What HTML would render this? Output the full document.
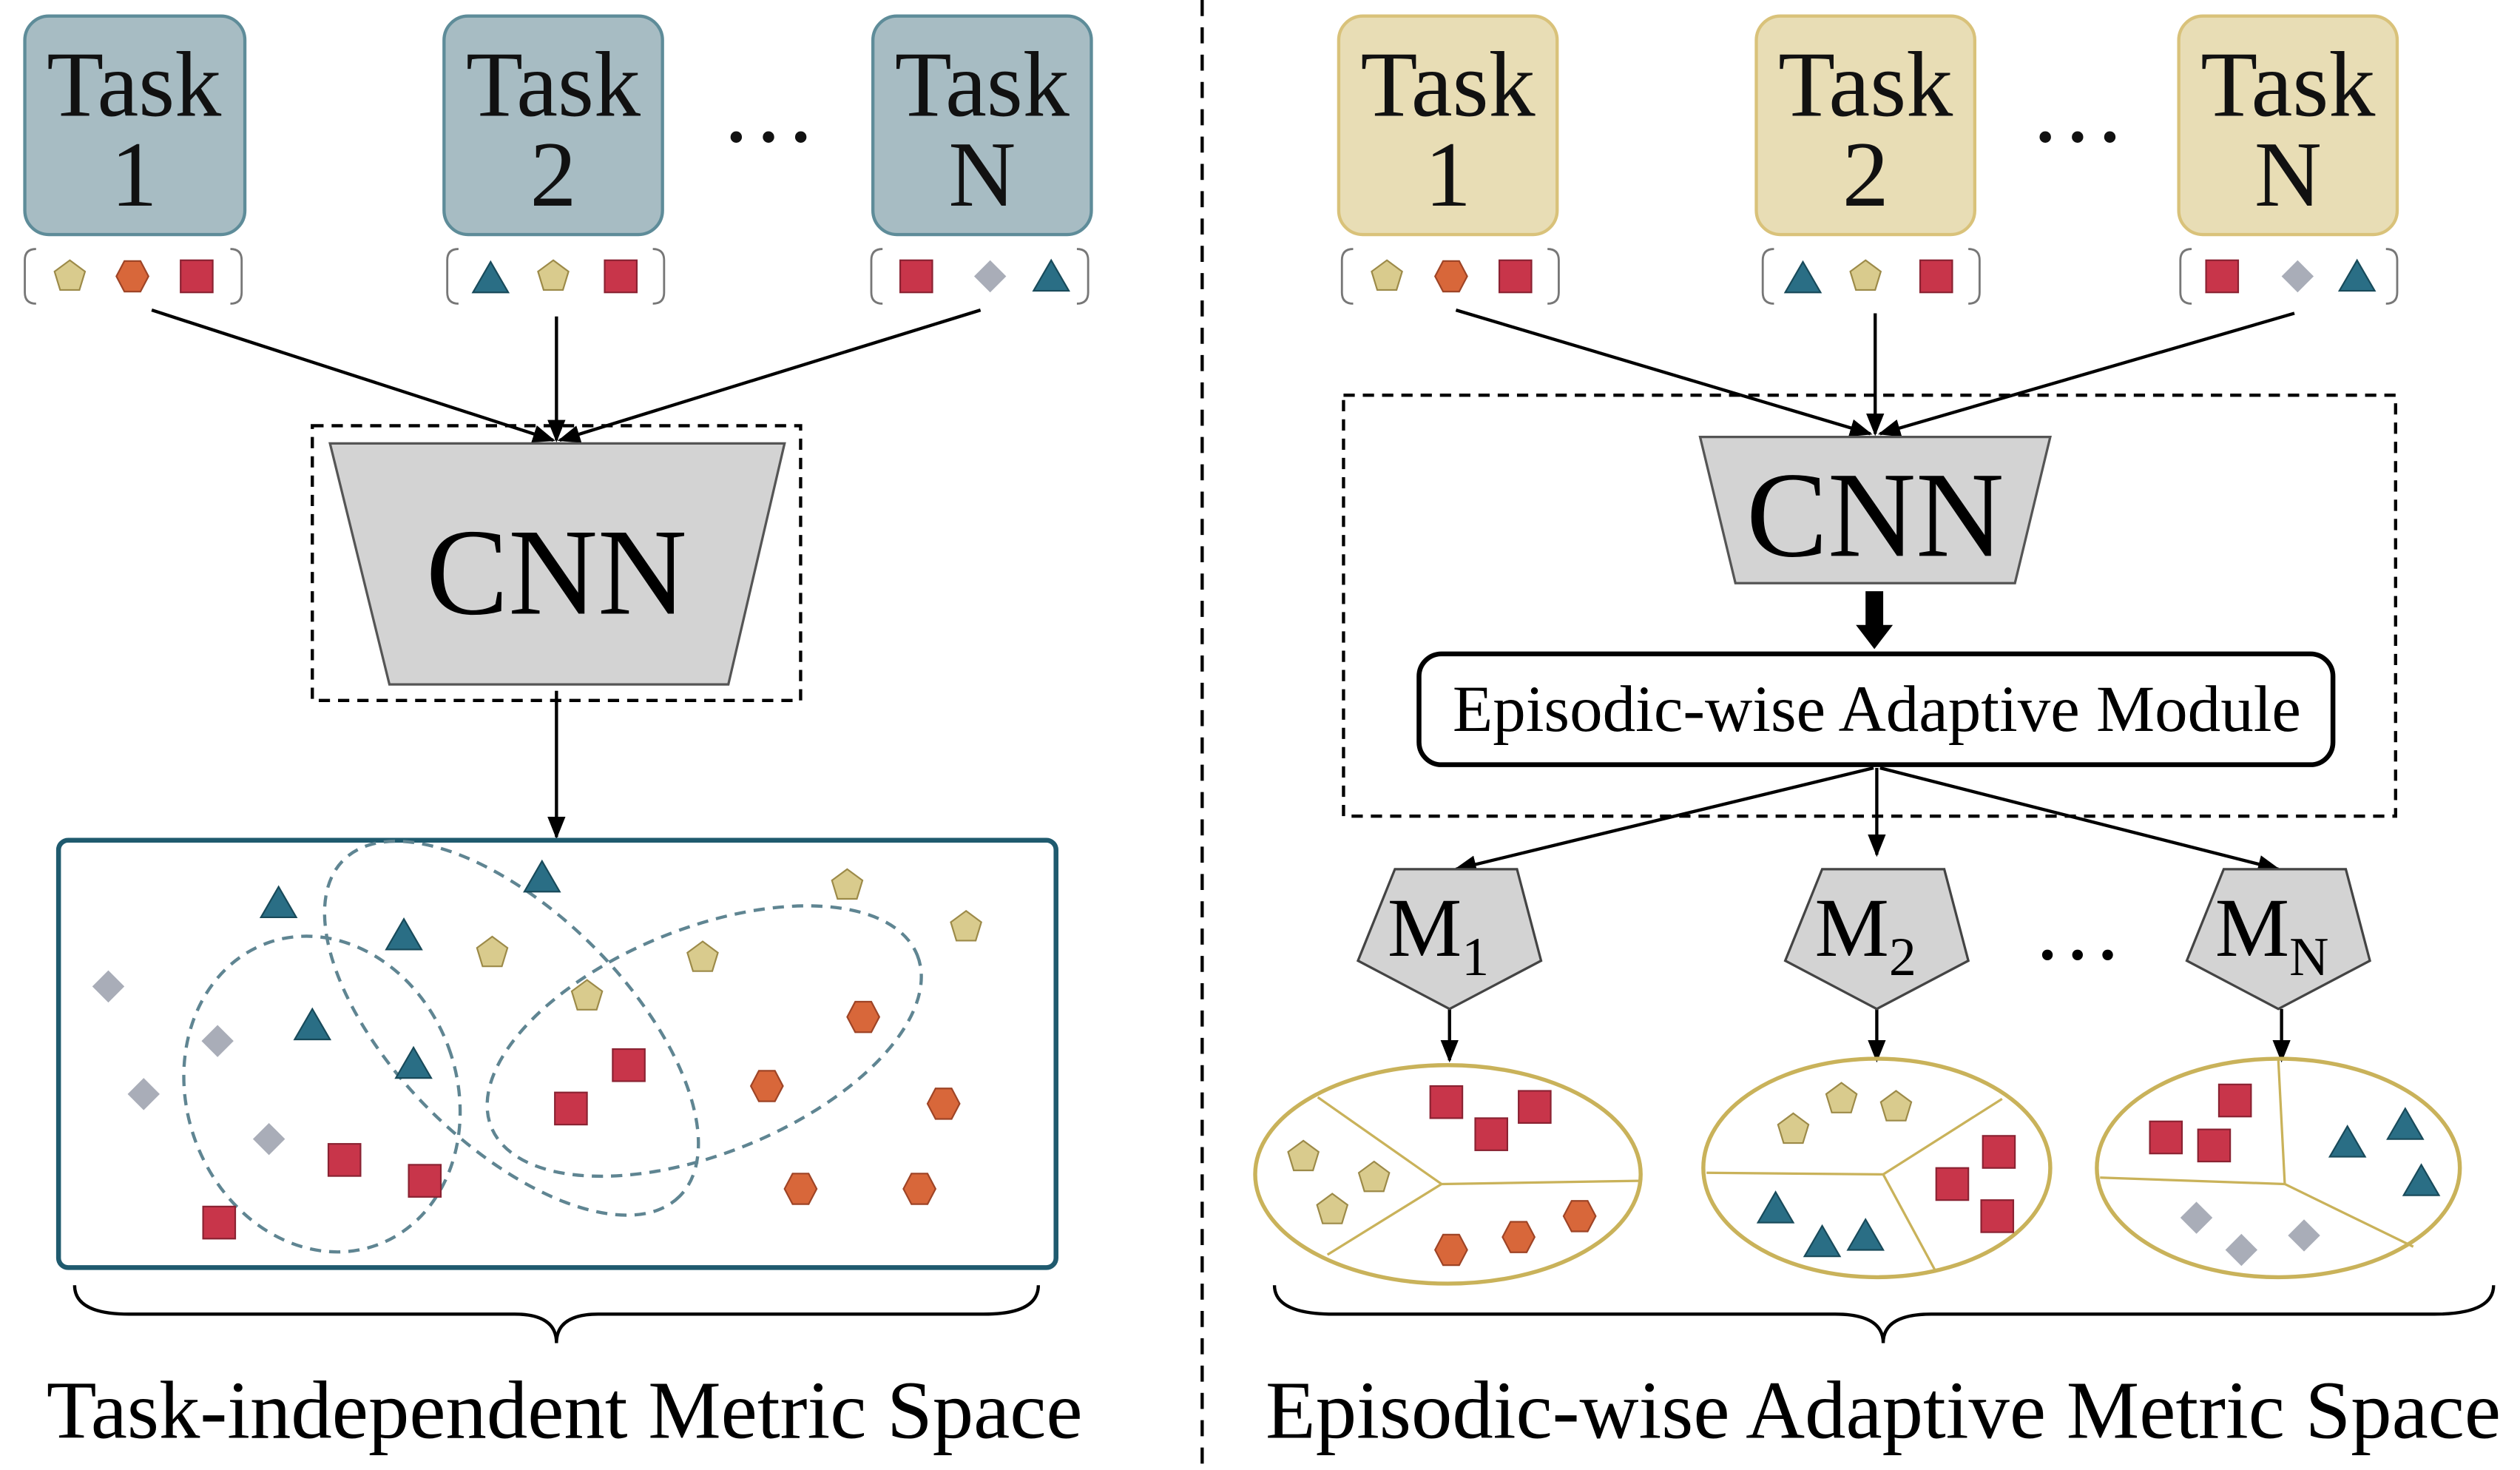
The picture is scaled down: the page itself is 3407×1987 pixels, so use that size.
<!DOCTYPE html>
<html><head><meta charset="utf-8"><style>
html,body{margin:0;padding:0;background:#fff;}
svg{display:block;}
text{font-family:"Liberation Serif",serif;}
</style></head><body>
<svg width="3407" height="1987" viewBox="0 0 1568 915" xmlns="http://www.w3.org/2000/svg">
<defs>
<marker id="ah" viewBox="0 0 10 10" refX="9" refY="5" markerWidth="7" markerHeight="7" orient="auto"><path d="M0,1 L10,5 L0,9 z" fill="#000"/></marker>
<g id="pe"><polygon points="0,-10 9.5,-3 6,8.5 -6,8.5 -9.5,-3" fill="#d9cb8d" stroke="#9c8a48" stroke-width="1"/></g>
<g id="hx"><polygon points="-5,-9.5 5,-9.5 10,0 5,9.5 -5,9.5 -10,0" fill="#d8673a" stroke="#9e4426" stroke-width="1"/></g>
<g id="sq"><rect x="-10" y="-10" width="20" height="20" fill="#c8354a" stroke="#8a2232" stroke-width="1"/></g>
<g id="tr"><polygon points="0,-11 11,8 -11,8" fill="#2a6e85" stroke="#184a5a" stroke-width="1"/></g>
<g id="di"><polygon points="0,-10 10,0 0,10 -10,0" fill="#a9adb8"/></g>
</defs>

<!-- LEFT -->
<g font-size="58" text-anchor="middle" fill="#111">
<rect x="15" y="10" width="137" height="136" rx="15" fill="#a7bcc3" stroke="#5e8c99" stroke-width="2"/>
<text x="83" y="72">Task</text><text x="83" y="128">1</text>
<rect x="276" y="10" width="136" height="136" rx="15" fill="#a7bcc3" stroke="#5e8c99" stroke-width="2"/>
<text x="344" y="72">Task</text><text x="344" y="128">2</text>
<rect x="543" y="10" width="136" height="136" rx="15" fill="#a7bcc3" stroke="#5e8c99" stroke-width="2"/>
<text x="611" y="72">Task</text><text x="611" y="128">N</text>
<text x="478" y="88" font-size="60">…</text>
</g>
<g fill="none" stroke="#777" stroke-width="1.3">
<path d="M22,155 Q15,155 15,162 V182 Q15,189 22,189"/><path d="M143,155 Q150,155 150,162 V182 Q150,189 143,189"/>
<path d="M285,155 Q278,155 278,162 V182 Q278,189 285,189"/><path d="M406,155 Q413,155 413,162 V182 Q413,189 406,189"/>
<path d="M549,155 Q542,155 542,162 V182 Q542,189 549,189"/><path d="M670,155 Q677,155 677,162 V182 Q677,189 670,189"/>
</g>
<use href="#pe" x="43" y="172"/><use href="#hx" x="82" y="172"/><use href="#sq" x="122" y="172"/>
<use href="#tr" x="305" y="174"/><use href="#pe" x="344" y="172"/><use href="#sq" x="386" y="172"/>
<use href="#sq" x="570" y="172"/><use href="#di" x="616" y="172"/><use href="#tr" x="654" y="173"/>

<g stroke="#000" stroke-width="2" marker-end="url(#ah)">
<line x1="94" y1="193" x2="344" y2="274"/><line x1="346" y1="197" x2="346" y2="274"/><line x1="610" y1="193" x2="348" y2="274"/>
<line x1="346" y1="430" x2="346" y2="521"/>
</g>
<rect x="194" y="265" width="304" height="171" fill="none" stroke="#000" stroke-width="2" stroke-dasharray="7,5"/>
<polygon points="205,276 488,276 453,426 242,426" fill="#d3d3d3" stroke="#555" stroke-width="1.5"/>
<text x="346" y="382" font-size="77" text-anchor="middle" fill="#000">CNN</text>

<rect x="36" y="523" width="621" height="266" rx="6" fill="none" stroke="#1f5a6e" stroke-width="3"/>
<g fill="none" stroke="#5f8592" stroke-width="2" stroke-dasharray="7,5">
<ellipse cx="200" cy="681" rx="84" ry="100" transform="rotate(-20 200 681)"/>
<ellipse cx="318" cy="640" rx="148" ry="72" transform="rotate(45 318 640)"/>
<ellipse cx="438" cy="648" rx="143" ry="70" transform="rotate(-22 438 648)"/>
</g>
<use href="#tr" x="173" y="563"/><use href="#tr" x="337" y="547"/><use href="#tr" x="251" y="583"/><use href="#tr" x="194" y="639"/><use href="#tr" x="257" y="663"/>
<use href="#pe" x="527" y="551"/><use href="#pe" x="601" y="577"/><use href="#pe" x="306" y="593"/><use href="#pe" x="437" y="596"/><use href="#pe" x="365" y="620"/>
<use href="#di" x="67" y="614"/><use href="#di" x="135" y="648"/><use href="#di" x="89" y="681"/><use href="#di" x="167" y="709"/>
<use href="#sq" x="391" y="663"/><use href="#sq" x="355" y="690"/><use href="#sq" x="214" y="722"/><use href="#sq" x="264" y="735"/><use href="#sq" x="136" y="761"/>
<use href="#hx" x="537" y="633"/><use href="#hx" x="477" y="676"/><use href="#hx" x="587" y="687"/><use href="#hx" x="498" y="740"/><use href="#hx" x="572" y="740"/>

<path d="M46,800 Q46,818 80,818 L320,818 Q346,818 346,836 Q346,818 372,818 L612,818 Q646,818 646,800" fill="none" stroke="#000" stroke-width="2"/>
<text x="351" y="895" font-size="51" text-anchor="middle" fill="#000">Task-independent Metric Space</text>

<line x1="748" y1="0" x2="748" y2="915" stroke="#000" stroke-width="2" stroke-dasharray="10,7"/>

<!-- RIGHT -->
<g font-size="58" text-anchor="middle" fill="#111">
<rect x="833" y="10" width="136" height="136" rx="15" fill="#e8ddb5" stroke="#d9c27a" stroke-width="2"/>
<text x="901" y="72">Task</text><text x="901" y="128">1</text>
<rect x="1093" y="10" width="136" height="136" rx="15" fill="#e8ddb5" stroke="#d9c27a" stroke-width="2"/>
<text x="1161" y="72">Task</text><text x="1161" y="128">2</text>
<rect x="1356" y="10" width="136" height="136" rx="15" fill="#e8ddb5" stroke="#d9c27a" stroke-width="2"/>
<text x="1424" y="72">Task</text><text x="1424" y="128">N</text>
<text x="1293" y="88" font-size="60">…</text>
</g>
<g fill="none" stroke="#777" stroke-width="1.3">
<path d="M842,155 Q835,155 835,162 V182 Q835,189 842,189"/><path d="M963,155 Q970,155 970,162 V182 Q970,189 963,189"/>
<path d="M1104,155 Q1097,155 1097,162 V182 Q1097,189 1104,189"/><path d="M1225,155 Q1232,155 1232,162 V182 Q1232,189 1225,189"/>
<path d="M1364,155 Q1357,155 1357,162 V182 Q1357,189 1364,189"/><path d="M1485,155 Q1492,155 1492,162 V182 Q1492,189 1485,189"/>
</g>
<use href="#pe" x="863" y="172"/><use href="#hx" x="903" y="172"/><use href="#sq" x="943" y="172"/>
<use href="#tr" x="1122" y="174"/><use href="#pe" x="1161" y="172"/><use href="#sq" x="1205" y="172"/>
<use href="#sq" x="1383" y="172"/><use href="#di" x="1430" y="172"/><use href="#tr" x="1467" y="173"/>

<g stroke="#000" stroke-width="2" marker-end="url(#ah)">
<line x1="906" y1="193" x2="1164" y2="270"/><line x1="1167" y1="195" x2="1167" y2="270"/><line x1="1428" y1="195" x2="1170" y2="270"/>
<line x1="1166" y1="478" x2="906" y2="541"/><line x1="1168" y1="478" x2="1168" y2="532"/><line x1="1170" y1="478" x2="1418" y2="541"/>
<line x1="902" y1="628" x2="902" y2="660"/><line x1="1168" y1="628" x2="1168" y2="660"/><line x1="1420" y1="628" x2="1420" y2="660"/>
</g>
<rect x="836" y="246" width="655" height="262" fill="none" stroke="#000" stroke-width="2" stroke-dasharray="7,5"/>
<polygon points="1058,272 1276,272 1254,363 1080,363" fill="#d3d3d3" stroke="#555" stroke-width="1.5"/>
<text x="1167" y="346" font-size="76" text-anchor="middle" fill="#000">CNN</text>
<rect x="1161" y="368" width="11" height="22" fill="#000"/>
<polygon points="1155,389 1178,389 1166.5,404" fill="#000"/>
<rect x="883" y="407" width="569" height="69" rx="14" fill="#fff" stroke="#000" stroke-width="3"/>
<text x="1168" y="455" font-size="41" text-anchor="middle" fill="#000">Episodic-wise Adaptive Module</text>

<g fill="#d3d3d3" stroke="#444" stroke-width="1.5">
<polygon points="868,541 944,541 959,598 902,628 845,598"/>
<polygon points="1134,541 1210,541 1225,598 1168,628 1111,598"/>
<polygon points="1384,541 1460,541 1475,598 1418,628 1361,598"/>
</g>
<g font-size="52" fill="#000" text-anchor="middle">
<text x="895" y="595">M<tspan font-size="34" dy="12">1</tspan></text>
<text x="1161" y="595">M<tspan font-size="34" dy="12">2</tspan></text>
<text x="1414" y="595">M<tspan font-size="34" dy="12">N</tspan></text>
<text x="1293" y="597" font-size="56">…</text>
</g>

<g fill="none" stroke="#c9b25a" stroke-width="2.5">
<ellipse cx="901" cy="731" rx="120" ry="68"/>
<ellipse cx="1168" cy="727" rx="108" ry="68"/>
<ellipse cx="1418" cy="727" rx="113" ry="68"/>
</g>
<g stroke="#c9b25a" stroke-width="1.5">
<line x1="897" y1="737" x2="820" y2="683"/><line x1="897" y1="737" x2="1020" y2="735"/><line x1="897" y1="737" x2="826" y2="781"/>
<line x1="1172" y1="731" x2="1246" y2="684"/><line x1="1172" y1="731" x2="1062" y2="730"/><line x1="1172" y1="731" x2="1205" y2="792"/>
<line x1="1422" y1="737" x2="1418" y2="660"/><line x1="1422" y1="737" x2="1307" y2="733"/><line x1="1422" y1="737" x2="1502" y2="776"/>
</g>
<use href="#sq" x="900" y="686"/><use href="#sq" x="928" y="706"/><use href="#sq" x="955" y="689"/>
<use href="#pe" x="811" y="720"/><use href="#pe" x="855" y="733"/><use href="#pe" x="829" y="753"/>
<use href="#hx" x="903" y="778"/><use href="#hx" x="945" y="770"/><use href="#hx" x="983" y="757"/>
<use href="#pe" x="1116" y="703"/><use href="#pe" x="1146" y="684"/><use href="#pe" x="1180" y="689"/>
<use href="#sq" x="1244" y="717"/><use href="#sq" x="1215" y="737"/><use href="#sq" x="1243" y="757"/>
<use href="#tr" x="1105" y="753"/><use href="#tr" x="1134" y="774"/><use href="#tr" x="1161" y="770"/>
<use href="#sq" x="1391" y="685"/><use href="#sq" x="1348" y="708"/><use href="#sq" x="1378" y="713"/>
<use href="#tr" x="1461" y="712"/><use href="#tr" x="1497" y="701"/><use href="#tr" x="1507" y="736"/>
<use href="#di" x="1367" y="758"/><use href="#di" x="1395" y="778"/><use href="#di" x="1434" y="769"/>

<path d="M793,800 Q793,818 830,818 L1142,818 Q1172,818 1172,836 Q1172,818 1202,818 L1515,818 Q1552,818 1552,800" fill="none" stroke="#000" stroke-width="2"/>
<text x="1172" y="895" font-size="51" text-anchor="middle" fill="#000">Episodic-wise Adaptive Metric Space</text>
</svg>
</body></html>
